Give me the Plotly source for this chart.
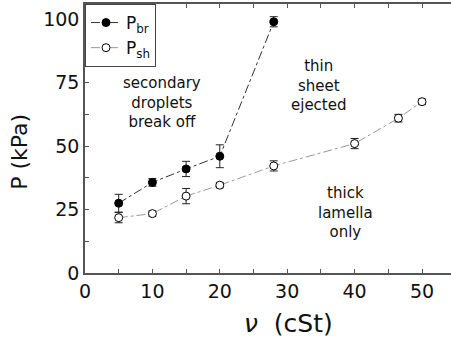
import plotly.graph_objects as go

nu_br = [5, 10, 15, 20, 28]
p_br = [27.5, 35.7, 41.0, 46.0, 99.0]
e_br = [3.5, 1.5, 3.0, 4.5, 2.0]

nu_sh = [5, 10, 15, 20, 28, 40, 46.5, 50]
p_sh = [21.8, 23.4, 30.3, 34.6, 42.2, 51.0, 61.0, 67.5]
e_sh = [2.0, 1.0, 3.0, 1.0, 2.0, 2.0, 1.5, 1.0]

xticks = [0, 10, 20, 30, 40, 50]
yticks = [0, 25, 50, 75, 100]

FONT = "DejaVu Sans"

fig = go.Figure()
fig.add_trace(go.Scatter(
    x=nu_br, y=p_br, mode="lines+markers", name="P<sub>br</sub>",
    line=dict(color="#333333", width=1, dash="dashdot"),
    marker=dict(color="black", size=8, line=dict(color="black", width=1)),
    error_y=dict(type="data", array=e_br, color="#222222", thickness=1, width=4),
))
fig.add_trace(go.Scatter(
    x=nu_sh, y=p_sh, mode="lines+markers", name="P<sub>sh</sub>",
    line=dict(color="#999999", width=1, dash="dashdot"),
    marker=dict(color="white", size=8, line=dict(color="black", width=1)),
    error_y=dict(type="data", array=e_sh, color="#222222", thickness=1, width=4),
))

ann_font = dict(family=FONT, size=15, color="#111111")
fig.add_annotation(x=11.4, y=67.3, text="secondary<br>droplets<br>break off",
                   showarrow=False, font=ann_font)
fig.add_annotation(x=34.7, y=74, text="thin<br>sheet<br>ejected",
                   showarrow=False, font=ann_font)
fig.add_annotation(x=38.7, y=24, text="thick<br>lamella<br>only",
                   showarrow=False, font=ann_font)

fig.add_annotation(xref="paper", yref="paper", x=0.555, y=-0.186, yanchor="middle",
                   text="<i>ν</i>  (cSt)", showarrow=False,
                   font=dict(family=FONT, size=25, color="#111111"))
fig.add_annotation(xref="paper", yref="paper", x=-0.178, y=0.45, xanchor="center",
                   yanchor="middle", textangle=-90,
                   text="P (kPa)", showarrow=False,
                   font=dict(family=FONT, size=22, color="#111111"))

fig.update_layout(
    width=451, height=342,
    margin=dict(l=85, r=0, t=4, b=69, autoexpand=False),
    paper_bgcolor="white", plot_bgcolor="white",
    font=dict(family=FONT, size=19, color="#111111"),
    showlegend=True,
    legend=dict(x=0, y=1, xanchor="left", yanchor="top",
                bordercolor="#444444", borderwidth=1, bgcolor="white",
                font=dict(family=FONT, size=17, color="#111111"),
                tracegroupgap=0, itemwidth=30),
    xaxis=dict(range=[0, 54.3], tickvals=xticks, ticks="inside", ticklen=4,
               automargin=False,
               showline=True, linecolor="#555555", linewidth=1.5, mirror="allticks",
               tickcolor="#555555", showgrid=False, zeroline=False,
               minor=dict(dtick=5, ticks="inside", ticklen=4, tickcolor="#555555")),
    yaxis=dict(range=[0, 106], tickvals=yticks, ticks="inside", ticklen=4,
               automargin=False,
               showline=True, linecolor="#555555", linewidth=1.5, mirror=False,
               tickcolor="#555555", showgrid=False, zeroline=False,
               minor=dict(dtick=12.5, ticks="inside", ticklen=4, tickcolor="#555555")),
)

fig.write_html("out.html", config={"displayModeBar": False},
               post_script="document.body.style.margin='0';document.body.style.overflow='hidden';")
